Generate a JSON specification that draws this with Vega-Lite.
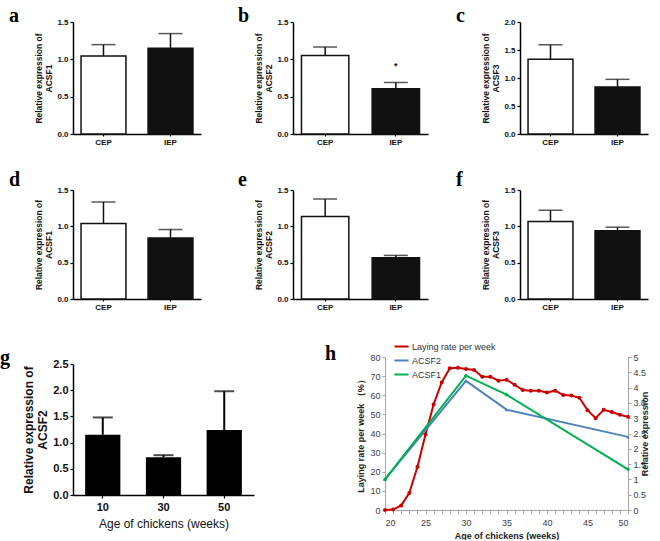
{
  "$schema": "https://vega.github.io/schema/vega-lite/v6.json",
  "padding": {"left": 0, "top": 6, "right": 0, "bottom": 0},
  "spacing": 24,
  "resolve": {"scale": {"color": "independent"}, "legend": {"color": "independent"}},
  "config": {
    "view": {"stroke": null},
    "font": "Liberation Sans",
    "title": {"font": "Liberation Serif", "fontSize": 20, "fontWeight": "bold", "anchor": "start", "frame": "group", "baseline": "alphabetic", "offset": 0, "color": "#000"},
    "axis": {"grid": false, "domainColor": "#000", "domainWidth": 1.5, "tickColor": "#000", "tickWidth": 1.2, "tickSize": 3, "labelColor": "#111", "labelFontSize": 8, "labelFontWeight": "bold", "titleColor": "#111", "titleFontSize": 8.5, "titleFontWeight": "bold", "labelPadding": 2, "titlePadding": 3, "labelOverlap": false}
  },
  "vconcat": [
    {
      "hconcat": [
        {
          "width": 128, "height": 112,
          "title": {"text": "a", "dx": -64, "dy": 12},
          "data": {"values": [{"group": "CEP", "mean": 1.045, "upper": 1.197}, {"group": "IEP", "mean": 1.15, "upper": 1.345}]},
          "encoding": {"x": {"field": "group", "type": "nominal", "title": null, "sort": ["CEP", "IEP"], "scale": {"paddingInner": 0.33, "paddingOuter": 0.12}, "axis": {"labelAngle": 0, "tickSize": 2}}},
          "layer": [
            {"mark": {"type": "rule", "color": "#111", "strokeWidth": 1.5}, "encoding": {"y": {"field": "mean", "type": "quantitative", "scale": {"domain": [0, 1.5], "nice": false}, "axis": {"values": [0, 0.5, 1, 1.5], "format": ".1f", "title": ["Relative expression of", "ACSF1"]}}, "y2": {"field": "upper"}}},
            {"mark": {"type": "tick", "color": "#111", "thickness": 1.5, "size": 24}, "encoding": {"y": {"field": "upper", "type": "quantitative", "scale": {"domain": [0, 1.5], "nice": false}, "axis": {"values": [0, 0.5, 1, 1.5], "format": ".1f", "title": ["Relative expression of", "ACSF1"]}}}},
            {"mark": {"type": "bar", "stroke": "#111", "strokeWidth": 1.5}, "encoding": {"y": {"field": "mean", "type": "quantitative", "scale": {"domain": [0, 1.5], "nice": false}, "axis": {"values": [0, 0.5, 1, 1.5], "format": ".1f", "title": ["Relative expression of", "ACSF1"]}}, "fill": {"field": "group", "type": "nominal", "scale": {"domain": ["CEP", "IEP"], "range": ["#ffffff", "#111111"]}, "legend": null}}}
          ]
        },
        {
          "width": 135, "height": 112,
          "title": {"text": "b", "dx": -55, "dy": 12},
          "data": {"values": [{"group": "CEP", "mean": 1.05, "upper": 1.165, "sig": ""}, {"group": "IEP", "mean": 0.607, "upper": 0.69, "sig": "*"}]},
          "encoding": {"x": {"field": "group", "type": "nominal", "title": null, "sort": ["CEP", "IEP"], "scale": {"paddingInner": 0.33, "paddingOuter": 0.12}, "axis": {"labelAngle": 0, "tickSize": 2}}},
          "layer": [
            {"mark": {"type": "rule", "color": "#111", "strokeWidth": 1.5}, "encoding": {"y": {"field": "mean", "type": "quantitative", "scale": {"domain": [0, 1.5], "nice": false}, "axis": {"values": [0, 0.5, 1, 1.5], "format": ".1f", "title": ["Relative expression of", "ACSF2"]}}, "y2": {"field": "upper"}}},
            {"mark": {"type": "tick", "color": "#111", "thickness": 1.5, "size": 24}, "encoding": {"y": {"field": "upper", "type": "quantitative", "scale": {"domain": [0, 1.5], "nice": false}, "axis": {"values": [0, 0.5, 1, 1.5], "format": ".1f", "title": ["Relative expression of", "ACSF2"]}}}},
            {"mark": {"type": "bar", "stroke": "#111", "strokeWidth": 1.5}, "encoding": {"y": {"field": "mean", "type": "quantitative", "scale": {"domain": [0, 1.5], "nice": false}, "axis": {"values": [0, 0.5, 1, 1.5], "format": ".1f", "title": ["Relative expression of", "ACSF2"]}}, "fill": {"field": "group", "type": "nominal", "scale": {"domain": ["CEP", "IEP"], "range": ["#ffffff", "#111111"]}, "legend": null}}},
            {"mark": {"type": "text", "fontSize": 9, "fontWeight": "bold", "baseline": "middle", "dy": -16, "color": "#111"}, "encoding": {"y": {"field": "upper", "type": "quantitative", "scale": {"domain": [0, 1.5], "nice": false}, "axis": {"values": [0, 0.5, 1, 1.5], "format": ".1f", "title": ["Relative expression of", "ACSF2"]}}, "text": {"field": "sig"}}}
          ]
        },
        {
          "width": 128, "height": 112,
          "title": {"text": "c", "dx": -64, "dy": 12},
          "data": {"values": [{"group": "CEP", "mean": 1.333, "upper": 1.595}, {"group": "IEP", "mean": 0.84, "upper": 0.976}]},
          "encoding": {"x": {"field": "group", "type": "nominal", "title": null, "sort": ["CEP", "IEP"], "scale": {"paddingInner": 0.33, "paddingOuter": 0.12}, "axis": {"labelAngle": 0, "tickSize": 2}}},
          "layer": [
            {"mark": {"type": "rule", "color": "#111", "strokeWidth": 1.5}, "encoding": {"y": {"field": "mean", "type": "quantitative", "scale": {"domain": [0, 2], "nice": false}, "axis": {"values": [0, 0.5, 1, 1.5, 2], "format": ".1f", "title": ["Relative expression of", "ACSF3"]}}, "y2": {"field": "upper"}}},
            {"mark": {"type": "tick", "color": "#111", "thickness": 1.5, "size": 24}, "encoding": {"y": {"field": "upper", "type": "quantitative", "scale": {"domain": [0, 2], "nice": false}, "axis": {"values": [0, 0.5, 1, 1.5, 2], "format": ".1f", "title": ["Relative expression of", "ACSF3"]}}}},
            {"mark": {"type": "bar", "stroke": "#111", "strokeWidth": 1.5}, "encoding": {"y": {"field": "mean", "type": "quantitative", "scale": {"domain": [0, 2], "nice": false}, "axis": {"values": [0, 0.5, 1, 1.5, 2], "format": ".1f", "title": ["Relative expression of", "ACSF3"]}}, "fill": {"field": "group", "type": "nominal", "scale": {"domain": ["CEP", "IEP"], "range": ["#ffffff", "#111111"]}, "legend": null}}}
          ]
        }
      ],
      "spacing": 92,
      "bounds": "flush"
    },
    {
      "hconcat": [
        {
          "width": 128, "height": 109,
          "title": {"text": "d", "dx": -64, "dy": 8},
          "data": {"values": [{"group": "CEP", "mean": 1.04, "upper": 1.335}, {"group": "IEP", "mean": 0.84, "upper": 0.956}]},
          "encoding": {"x": {"field": "group", "type": "nominal", "title": null, "sort": ["CEP", "IEP"], "scale": {"paddingInner": 0.33, "paddingOuter": 0.12}, "axis": {"labelAngle": 0, "tickSize": 2}}},
          "layer": [
            {"mark": {"type": "rule", "color": "#111", "strokeWidth": 1.5}, "encoding": {"y": {"field": "mean", "type": "quantitative", "scale": {"domain": [0, 1.5], "nice": false}, "axis": {"values": [0, 0.5, 1, 1.5], "format": ".1f", "title": ["Relative expression of", "ACSF1"]}}, "y2": {"field": "upper"}}},
            {"mark": {"type": "tick", "color": "#111", "thickness": 1.5, "size": 24}, "encoding": {"y": {"field": "upper", "type": "quantitative", "scale": {"domain": [0, 1.5], "nice": false}, "axis": {"values": [0, 0.5, 1, 1.5], "format": ".1f", "title": ["Relative expression of", "ACSF1"]}}}},
            {"mark": {"type": "bar", "stroke": "#111", "strokeWidth": 1.5}, "encoding": {"y": {"field": "mean", "type": "quantitative", "scale": {"domain": [0, 1.5], "nice": false}, "axis": {"values": [0, 0.5, 1, 1.5], "format": ".1f", "title": ["Relative expression of", "ACSF1"]}}, "fill": {"field": "group", "type": "nominal", "scale": {"domain": ["CEP", "IEP"], "range": ["#ffffff", "#111111"]}, "legend": null}}}
          ]
        },
        {
          "width": 135, "height": 109,
          "title": {"text": "e", "dx": -55, "dy": 8},
          "data": {"values": [{"group": "CEP", "mean": 1.134, "upper": 1.376}, {"group": "IEP", "mean": 0.567, "upper": 0.6}]},
          "encoding": {"x": {"field": "group", "type": "nominal", "title": null, "sort": ["CEP", "IEP"], "scale": {"paddingInner": 0.33, "paddingOuter": 0.12}, "axis": {"labelAngle": 0, "tickSize": 2}}},
          "layer": [
            {"mark": {"type": "rule", "color": "#111", "strokeWidth": 1.5}, "encoding": {"y": {"field": "mean", "type": "quantitative", "scale": {"domain": [0, 1.5], "nice": false}, "axis": {"values": [0, 0.5, 1, 1.5], "format": ".1f", "title": ["Relative expression of", "ACSF2"]}}, "y2": {"field": "upper"}}},
            {"mark": {"type": "tick", "color": "#111", "thickness": 1.5, "size": 24}, "encoding": {"y": {"field": "upper", "type": "quantitative", "scale": {"domain": [0, 1.5], "nice": false}, "axis": {"values": [0, 0.5, 1, 1.5], "format": ".1f", "title": ["Relative expression of", "ACSF2"]}}}},
            {"mark": {"type": "bar", "stroke": "#111", "strokeWidth": 1.5}, "encoding": {"y": {"field": "mean", "type": "quantitative", "scale": {"domain": [0, 1.5], "nice": false}, "axis": {"values": [0, 0.5, 1, 1.5], "format": ".1f", "title": ["Relative expression of", "ACSF2"]}}, "fill": {"field": "group", "type": "nominal", "scale": {"domain": ["CEP", "IEP"], "range": ["#ffffff", "#111111"]}, "legend": null}}}
          ]
        },
        {
          "width": 128, "height": 109,
          "title": {"text": "f", "dx": -64, "dy": 8},
          "data": {"values": [{"group": "CEP", "mean": 1.065, "upper": 1.22}, {"group": "IEP", "mean": 0.94, "upper": 0.988}]},
          "encoding": {"x": {"field": "group", "type": "nominal", "title": null, "sort": ["CEP", "IEP"], "scale": {"paddingInner": 0.33, "paddingOuter": 0.12}, "axis": {"labelAngle": 0, "tickSize": 2}}},
          "layer": [
            {"mark": {"type": "rule", "color": "#111", "strokeWidth": 1.5}, "encoding": {"y": {"field": "mean", "type": "quantitative", "scale": {"domain": [0, 1.5], "nice": false}, "axis": {"values": [0, 0.5, 1, 1.5], "format": ".1f", "title": ["Relative expression of", "ACSF3"]}}, "y2": {"field": "upper"}}},
            {"mark": {"type": "tick", "color": "#111", "thickness": 1.5, "size": 24}, "encoding": {"y": {"field": "upper", "type": "quantitative", "scale": {"domain": [0, 1.5], "nice": false}, "axis": {"values": [0, 0.5, 1, 1.5], "format": ".1f", "title": ["Relative expression of", "ACSF3"]}}}},
            {"mark": {"type": "bar", "stroke": "#111", "strokeWidth": 1.5}, "encoding": {"y": {"field": "mean", "type": "quantitative", "scale": {"domain": [0, 1.5], "nice": false}, "axis": {"values": [0, 0.5, 1, 1.5], "format": ".1f", "title": ["Relative expression of", "ACSF3"]}}, "fill": {"field": "group", "type": "nominal", "scale": {"domain": ["CEP", "IEP"], "range": ["#ffffff", "#111111"]}, "legend": null}}}
          ]
        }
      ],
      "spacing": 92,
      "bounds": "flush"
    },
    {
      "hconcat": [
        {
          "width": 181, "height": 138,
          "title": {"text": "g", "dx": -73, "dy": 15},
          "data": {"values": [{"age": "10", "mean": 1.15, "upper": 1.48}, {"age": "30", "mean": 0.72, "upper": 0.76}, {"age": "50", "mean": 1.24, "upper": 1.98}]},
          "encoding": {"x": {"field": "age", "type": "nominal", "title": "Age of chickens (weeks)", "sort": ["10", "30", "50"], "scale": {"paddingInner": 0.42, "paddingOuter": 0.2}, "axis": {"labelAngle": 0, "labelFontSize": 11, "titleFontSize": 12, "titleFontWeight": "normal", "tickSize": 3, "labelPadding": 3, "titlePadding": 6}}},
          "layer": [
            {"mark": {"type": "rule", "color": "#000", "strokeWidth": 2}, "encoding": {"y": {"field": "mean", "type": "quantitative", "scale": {"domain": [0, 2.5], "nice": false, "range": [138, 7]}, "axis": {"values": [0, 0.5, 1, 1.5, 2, 2.5], "format": ".1f", "labelFontSize": 11, "titleFontSize": 12, "title": ["Relative expression of", "ACSF2"]}}, "y2": {"field": "upper"}}},
            {"mark": {"type": "tick", "color": "#000", "thickness": 2, "size": 20}, "encoding": {"y": {"field": "upper", "type": "quantitative", "scale": {"domain": [0, 2.5], "nice": false, "range": [138, 7]}, "axis": {"values": [0, 0.5, 1, 1.5, 2, 2.5], "format": ".1f", "labelFontSize": 11, "titleFontSize": 12, "title": ["Relative expression of", "ACSF2"]}}}},
            {"mark": {"type": "bar", "color": "#000"}, "encoding": {"y": {"field": "mean", "type": "quantitative", "scale": {"domain": [0, 2.5], "nice": false, "range": [138, 7]}, "axis": {"values": [0, 0.5, 1, 1.5, 2, 2.5], "format": ".1f", "labelFontSize": 11, "titleFontSize": 12, "title": ["Relative expression of", "ACSF2"]}}}}
          ]
        },
        {
          "width": 243, "height": 153,
          "title": {"text": "h", "dx": -60, "dy": 33},
          "encoding": {"x": {"field": "week", "type": "quantitative", "title": "Age of chickens (weeks)", "scale": {"domain": [20, 50], "nice": false}, "axis": {"values": [20,21,22,23,24,25,26,27,28,29,30,31,32,33,34,35,36,37,38,39,40,41,42,43,44,45,46,47,48,49,50], "labelExpr": "datum.value % 5 === 0 ? datum.label : ''", "domainColor": "#a6a6a6", "domainWidth": 1, "tickColor": "#a6a6a6", "tickWidth": 1, "tickSize": 4, "labelFontWeight": "normal", "labelFontSize": 9, "labelColor": "#404040", "labelPadding": 4, "titleFontSize": 9, "titleColor": "#222", "titlePadding": 4}}},
          "layer": [
            {
              "data": {"values": [
                {"week": 20, "rate": 0, "series": "Laying rate per week"},
                {"week": 21, "rate": 0.2, "series": "Laying rate per week"},
                {"week": 22, "rate": 2.4, "series": "Laying rate per week"},
                {"week": 23, "rate": 8.9, "series": "Laying rate per week"},
                {"week": 24, "rate": 22.5, "series": "Laying rate per week"},
                {"week": 25, "rate": 39.5, "series": "Laying rate per week"},
                {"week": 26, "rate": 55.2, "series": "Laying rate per week"},
                {"week": 27, "rate": 66.7, "series": "Laying rate per week"},
                {"week": 28, "rate": 74.1, "series": "Laying rate per week"},
                {"week": 29, "rate": 74.4, "series": "Laying rate per week"},
                {"week": 30, "rate": 73.7, "series": "Laying rate per week"},
                {"week": 31, "rate": 73.2, "series": "Laying rate per week"},
                {"week": 32, "rate": 69.7, "series": "Laying rate per week"},
                {"week": 33, "rate": 69.7, "series": "Laying rate per week"},
                {"week": 34, "rate": 67.6, "series": "Laying rate per week"},
                {"week": 35, "rate": 68.1, "series": "Laying rate per week"},
                {"week": 36, "rate": 65.5, "series": "Laying rate per week"},
                {"week": 37, "rate": 62.7, "series": "Laying rate per week"},
                {"week": 38, "rate": 62.4, "series": "Laying rate per week"},
                {"week": 39, "rate": 62.4, "series": "Laying rate per week"},
                {"week": 40, "rate": 61.5, "series": "Laying rate per week"},
                {"week": 41, "rate": 62.4, "series": "Laying rate per week"},
                {"week": 42, "rate": 60.1, "series": "Laying rate per week"},
                {"week": 43, "rate": 59.9, "series": "Laying rate per week"},
                {"week": 44, "rate": 58.7, "series": "Laying rate per week"},
                {"week": 45, "rate": 52.2, "series": "Laying rate per week"},
                {"week": 46, "rate": 48.0, "series": "Laying rate per week"},
                {"week": 47, "rate": 52.4, "series": "Laying rate per week"},
                {"week": 48, "rate": 51.2, "series": "Laying rate per week"},
                {"week": 49, "rate": 49.8, "series": "Laying rate per week"},
                {"week": 50, "rate": 48.7, "series": "Laying rate per week"}
              ]},
              "encoding": {
                "y": {"field": "rate", "type": "quantitative", "scale": {"domain": [0, 80], "nice": false}, "axis": {"values": [0,10,20,30,40,50,60,70,80], "title": "Laying rate per week （%）", "domainColor": "#a6a6a6", "domainWidth": 1, "tickColor": "#a6a6a6", "tickWidth": 1, "tickSize": 3, "labelFontWeight": "normal", "labelFontSize": 9, "labelColor": "#404040", "titleFontSize": 9, "titleColor": "#222", "titlePadding": 4}},
                "color": {"field": "series", "type": "nominal", "scale": {"domain": ["Laying rate per week", "ACSF2", "ACSF1"], "range": ["#cc0000", "#4f81bd", "#00b050"]}, "legend": {"title": null, "orient": "none", "legendX": 5, "legendY": -22, "padding": 3, "symbolType": "stroke", "symbolSize": 200, "symbolStrokeWidth": 2, "labelFontSize": 9, "labelColor": "#333", "rowPadding": 0, "labelOffset": 2}}
              },
              "layer": [
                {"mark": {"type": "line", "strokeWidth": 2}},
                {"mark": {"type": "point", "filled": true, "size": 16, "opacity": 1, "shape": "circle"}}
              ]
            },
            {
              "data": {"values": [
                {"week": 20, "expr": 1.0, "series": "ACSF2"},
                {"week": 30, "expr": 4.22, "series": "ACSF2"},
                {"week": 35, "expr": 3.28, "series": "ACSF2"},
                {"week": 50, "expr": 2.39, "series": "ACSF2"},
                {"week": 20, "expr": 1.0, "series": "ACSF1"},
                {"week": 30, "expr": 4.39, "series": "ACSF1"},
                {"week": 35, "expr": 3.77, "series": "ACSF1"},
                {"week": 50, "expr": 1.33, "series": "ACSF1"}
              ]},
              "encoding": {
                "y": {"field": "expr", "type": "quantitative", "scale": {"domain": [0, 5], "nice": false}, "axis": {"orient": "right", "values": [0,0.5,1,1.5,2,2.5,3,3.5,4,4.5,5], "format": "~g", "title": "Relative expression", "titleAngle": 270, "domainColor": "#a6a6a6", "domainWidth": 1, "tickColor": "#a6a6a6", "tickWidth": 1, "tickSize": 3, "labelFontWeight": "normal", "labelFontSize": 9, "labelColor": "#404040", "titleFontSize": 9, "titleColor": "#222", "titlePadding": 4}},
                "color": {"field": "series", "type": "nominal"}
              },
              "layer": [
                {"mark": {"type": "line", "strokeWidth": 2}},
                {"mark": {"type": "point", "filled": true, "size": 14, "opacity": 1}, "encoding": {"shape": {"field": "series", "type": "nominal", "scale": {"domain": ["ACSF2", "ACSF1"], "range": ["triangle-up", "cross"]}, "legend": null}}}
              ]
            }
          ],
          "resolve": {"scale": {"y": "independent"}}
        }
      ],
      "spacing": 131,
      "bounds": "flush",
      "resolve": {"scale": {"color": "independent"}, "legend": {"color": "independent"}}
    }
  ]
}
